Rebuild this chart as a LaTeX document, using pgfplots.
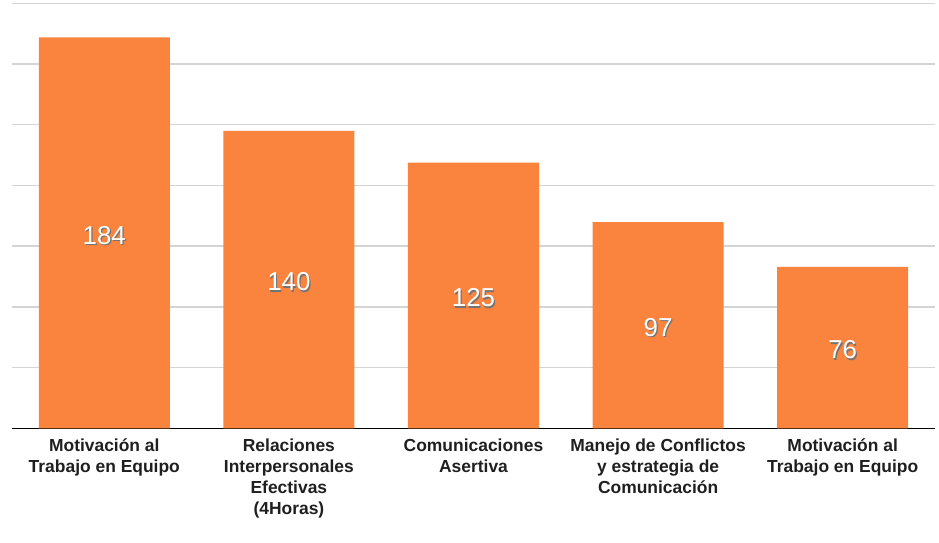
\documentclass[border=0pt]{standalone}
\usepackage{pgfplots}
\pgfplotsset{compat=1.18}
\usepackage{fontspec}
\setmainfont{Liberation Sans}
\definecolor{barorange}{RGB}{250,132,62}
\definecolor{gridgray}{RGB}{212,212,212}
\begin{document}
\begin{tikzpicture}
\begin{axis}[
  scale only axis, width=923bp, height=425bp,
  xmin=-0.5, xmax=4.5, ymin=0, ymax=200,
  axis x line*=bottom, axis y line*=left,
  y axis line style={draw=none},
  x axis line style={black, line width=1.2bp, -},
  xtick=data,
  xticklabels={{Motivación al\\Trabajo en Equipo},{Relaciones\\Interpersonales\\Efectivas\\(4Horas)},{Comunicaciones\\Asertiva},{Manejo de Conflictos\\y estrategia de\\Comunicación},{Motivación al\\Trabajo en Equipo}},
  xtick style={draw=none},
  ytick={0,28.5714,57.1429,85.7143,114.2857,142.8571,171.4286,200},
  yticklabels={}, ytick style={draw=none},
  ymajorgrids, grid style={gridgray, line width=1.5bp},
  xticklabel style={font=\fontsize{17.5}{21}\selectfont\bfseries, align=center, text=black!88, yshift=-3bp},
  /pgf/number format/assume math mode=true,
  ybar, bar width=0.71,
  visualization depends on=y \as \rawy,
  nodes near coords={\makebox[0pt][l]{\hspace{1.2bp}\raisebox{-1.2bp}{\color{black!55}\pgfmathprintnumber{\pgfplotspointmeta}}}\pgfmathprintnumber{\pgfplotspointmeta}},
  every node near coord/.append style={anchor=center, text=white, font=\fontsize{26}{26}\selectfont, shift={(axis direction cs:0,-\rawy/2)}, yshift=-3bp},
]
\addplot[fill=barorange, draw=none] coordinates {(0,184) (1,140) (2,125) (3,97) (4,76)};
\end{axis}
\path (current axis.south west) +(-12bp,-114bp) (current axis.north east) +(4bp,3bp);
\end{tikzpicture}
\end{document}
